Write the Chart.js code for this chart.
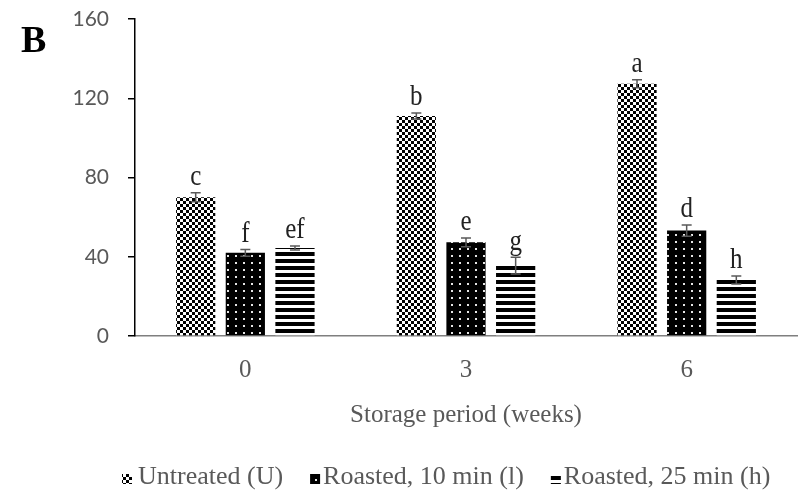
<!DOCTYPE html>
<html>
<head>
<meta charset="utf-8">
<script src="https://cdn.jsdelivr.net/npm/chart.js@4/dist/chart.umd.min.js"></script>
<style>
  html, body { margin: 0; padding: 0; background: #fff; }
  #wrap { width: 803px; height: 501px; position: relative; }
</style>
</head>
<body>
<div id="wrap"><canvas id="c" width="803" height="501"></canvas></div>
<script>
// Storage period categories (weeks)
const weeks = ['0', '3', '6'];
const seriesNames = ['Untreated (U)', 'Roasted, 10 min (l)', 'Roasted, 25 min (h)'];

// Mean values per treatment
const untreated = [70.0, 111.0, 127.3];
const roasted10 = [42.0, 47.3, 53.2];
const roasted25 = [44.4, 35.5, 28.3];

// Standard deviations (±)
const untreatedErr = [2.3, 1.5, 2.0];
const roasted10Err = [1.7, 2.2, 2.8];
const roasted25Err = [1.0, 4.2, 2.0];

// Significance letters
const untreatedLetters = ['c', 'b', 'a'];
const roasted10Letters = ['f', 'e', 'd'];
const roasted25Letters = ['ef', 'g', 'h'];

// Y axis tick values
const yTicks = [0, 40, 80, 120, 160];

const canvas = document.getElementById('c');
const mainCtx = canvas.getContext('2d');

function makePattern(w, h, draw) {
  const c = document.createElement('canvas');
  c.width = w; c.height = h;
  draw(c.getContext('2d'));
  return mainCtx.createPattern(c, 'repeat');
}

// Checkerboard fill
const checker = makePattern(6, 6, g => {
  g.fillStyle = '#fff'; g.fillRect(0, 0, 6, 6);
  g.fillStyle = '#000'; g.fillRect(0, 0, 3, 3); g.fillRect(3, 3, 3, 3);
});
// Black with small light dots
const dotted = makePattern(8, 7, g => {
  g.fillStyle = '#000'; g.fillRect(0, 0, 8, 7);
  g.fillStyle = '#e6e6e6'; g.fillRect(3, 3, 2, 2);
});
// Horizontal stripes
const striped = makePattern(4, 7, g => {
  g.fillStyle = '#fff'; g.fillRect(0, 0, 4, 7);
  g.fillStyle = '#000'; g.fillRect(0, 0, 4, 4);
});

const GREY = '#595959';
const SERIF = "'Liberation Serif', 'Times New Roman', serif";

const datasets = [
  { label: seriesNames[0], data: untreated, err: untreatedErr, letters: untreatedLetters, backgroundColor: checker },
  { label: seriesNames[1], data: roasted10, err: roasted10Err, letters: roasted10Letters, backgroundColor: dotted },
  { label: seriesNames[2], data: roasted25, err: roasted25Err, letters: roasted25Letters, backgroundColor: striped }
].map(d => Object.assign(d, { borderWidth: 0, categoryPercentage: 0.675, barPercentage: 0.79 }));

// Error bars and letters above each bar
const errorBarPlugin = {
  id: 'errorBars',
  afterDatasetsDraw(chart) {
    const { ctx, scales: { y } } = chart;
    chart.data.datasets.forEach((ds, di) => {
      const meta = chart.getDatasetMeta(di);
      meta.data.forEach((bar, i) => {
        const v = ds.data[i], e = ds.err[i];
        const yTop = y.getPixelForValue(v + e);
        const yBot = y.getPixelForValue(v - e);
        const x = bar.x;
        ctx.save();
        ctx.strokeStyle = GREY;
        ctx.lineWidth = 1.5;
        ctx.beginPath();
        ctx.moveTo(x, yTop); ctx.lineTo(x, yBot);
        ctx.moveTo(x - 5, yTop); ctx.lineTo(x + 5, yTop);
        ctx.moveTo(x - 5, yBot); ctx.lineTo(x + 5, yBot);
        ctx.stroke();
        // letter, slightly taller than wide
        ctx.fillStyle = '#222';
        ctx.font = '25px ' + SERIF;
        ctx.textAlign = 'center';
        ctx.textBaseline = 'bottom';
        ctx.translate(x, yTop - 1);
        ctx.scale(1, 1.15);
        ctx.fillText(ds.letters[i], 0, 0);
        ctx.restore();
      });
    });
  }
};

// Panel letter and legend row
const decorPlugin = {
  id: 'decor',
  afterDraw(chart) {
    const { ctx } = chart;
    ctx.save();
    ctx.fillStyle = '#000';
    ctx.font = 'bold 38px ' + SERIF;
    ctx.textAlign = 'left';
    ctx.textBaseline = 'alphabetic';
    ctx.fillText('B', 21, 52);

    ctx.font = '26px ' + SERIF;
    let x = 122;
    const baseY = 484;
    chart.data.datasets.forEach((ds, i) => {
      ctx.fillStyle = ds.backgroundColor;
      ctx.fillRect(x, baseY - 10, 10, 10);
      x += i === 0 ? 16 : 13;
      ctx.fillStyle = GREY;
      ctx.fillText(ds.label, x, baseY);
      x += ctx.measureText(ds.label).width + 27;
    });
    ctx.restore();
  }
};

new Chart(canvas, {
  type: 'bar',
  data: { labels: weeks, datasets },
  options: {
    responsive: false,
    animation: false,
    layout: { padding: { left: 0, top: 19, right: 6, bottom: 60 } },
    plugins: { legend: { display: false }, tooltip: { enabled: false } },
    scales: {
      x: {
        grid: { display: false, drawTicks: false },
        border: { display: true, color: '#7f7f7f', width: 1.5 },
        ticks: { color: GREY, font: { family: SERIF, size: 25 }, padding: 19 },
        title: { display: true, text: 'Storage period (weeks)', color: GREY, font: { family: SERIF, size: 25 }, padding: { top: 0, bottom: 11 } },
        afterFit(s) { s.height = 105; s.paddingLeft = 0; s.paddingRight = 0; }
      },
      y: {
        min: 0, max: 160,
        afterBuildTicks(s) { s.ticks = yTicks.map(v => ({ value: v })); },
        grid: { drawOnChartArea: false, drawTicks: true, tickLength: 7, color: '#000', lineWidth: 1.5 },
        border: { display: true, color: '#000', width: 1.5 },
        ticks: { color: GREY, font: { family: 'Lato', size: 21 }, padding: 19 },
        afterFit(s) { s.width = 135; s.paddingTop = 0; s.paddingBottom = 0; }
      }
    }
  },
  plugins: [errorBarPlugin, decorPlugin]
});
</script>
</body>
</html>
